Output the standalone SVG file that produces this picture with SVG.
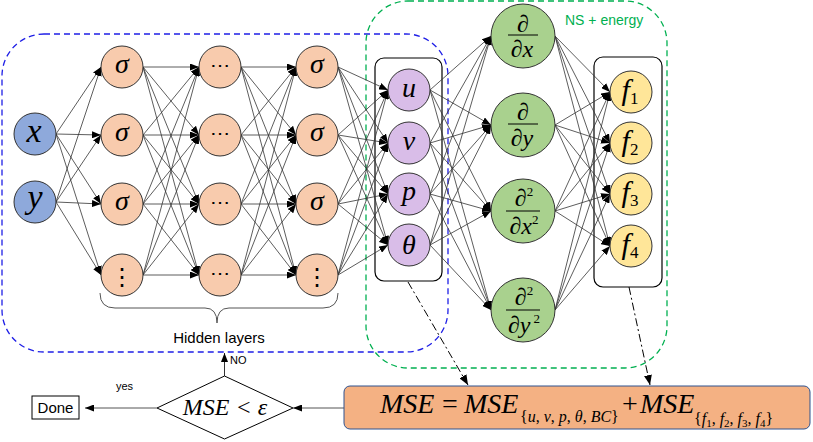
<svg xmlns="http://www.w3.org/2000/svg" width="813" height="442" viewBox="0 0 813 442">
<defs>
<marker id="a" markerUnits="userSpaceOnUse" markerWidth="9" markerHeight="7" refX="9" refY="3.5" orient="auto"><path d="M0,0 L9,3.5 L0,7 z" fill="#000"/></marker>
<marker id="b" markerUnits="userSpaceOnUse" markerWidth="10" markerHeight="8" refX="10" refY="4" orient="auto"><path d="M0,0 L10,4 L0,8 z" fill="#000"/></marker>
</defs>
<style>
.e{stroke:#333;stroke-width:0.8;marker-end:url(#a)}
.n{stroke:#333;stroke-width:1}
.in{fill:#8EA9DB}
.hd{fill:#F8CBAD}
.ou{fill:#D9BDE8}
.gr{fill:#A9D18E}
.fy{fill:#FFE699}
.m{font-family:"Liberation Serif",serif;font-style:italic;fill:#000;text-anchor:middle}
.s{font-family:"Liberation Sans",Arial,sans-serif;fill:#000}
.fr{stroke:#000;stroke-width:1}
</style>
<rect x="2" y="34" width="446" height="318" rx="42" fill="none" stroke="#1F1FE6" stroke-width="1.3" stroke-dasharray="6,4"/>
<rect x="366" y="1" width="301" height="367" rx="42" fill="none" stroke="#00B050" stroke-width="1.3" stroke-dasharray="6,4"/>
<text x="565" y="25" class="s" font-size="14" fill="#00B050" style="fill:#00B050">NS + energy</text>
<rect x="375" y="58" width="67" height="223" rx="9" fill="none" stroke="#000" stroke-width="1.2"/>
<rect x="594" y="57" width="68" height="230" rx="9" fill="none" stroke="#000" stroke-width="1.2"/>
<g id="connectors">
<line class="e" x1="56" y1="134" x2="101" y2="67"/><line class="e" x1="56" y1="134" x2="101" y2="135"/><line class="e" x1="56" y1="134" x2="101" y2="204"/><line class="e" x1="56" y1="134" x2="101" y2="275"/>
<line class="e" x1="56" y1="202" x2="101" y2="67"/><line class="e" x1="56" y1="202" x2="101" y2="135"/><line class="e" x1="56" y1="202" x2="101" y2="204"/><line class="e" x1="56" y1="202" x2="101" y2="275"/>
<line class="e" x1="143" y1="67" x2="199" y2="67"/><line class="e" x1="143" y1="67" x2="199" y2="135"/><line class="e" x1="143" y1="67" x2="199" y2="204"/><line class="e" x1="143" y1="67" x2="199" y2="275"/>
<line class="e" x1="143" y1="135" x2="199" y2="67"/><line class="e" x1="143" y1="135" x2="199" y2="135"/><line class="e" x1="143" y1="135" x2="199" y2="204"/><line class="e" x1="143" y1="135" x2="199" y2="275"/>
<line class="e" x1="143" y1="204" x2="199" y2="67"/><line class="e" x1="143" y1="204" x2="199" y2="135"/><line class="e" x1="143" y1="204" x2="199" y2="204"/><line class="e" x1="143" y1="204" x2="199" y2="275"/>
<line class="e" x1="143" y1="275" x2="199" y2="67"/><line class="e" x1="143" y1="275" x2="199" y2="135"/><line class="e" x1="143" y1="275" x2="199" y2="204"/><line class="e" x1="143" y1="275" x2="199" y2="275"/>
<line class="e" x1="241" y1="67" x2="296" y2="67"/><line class="e" x1="241" y1="67" x2="296" y2="135"/><line class="e" x1="241" y1="67" x2="296" y2="204"/><line class="e" x1="241" y1="67" x2="296" y2="275"/>
<line class="e" x1="241" y1="135" x2="296" y2="67"/><line class="e" x1="241" y1="135" x2="296" y2="135"/><line class="e" x1="241" y1="135" x2="296" y2="204"/><line class="e" x1="241" y1="135" x2="296" y2="275"/>
<line class="e" x1="241" y1="204" x2="296" y2="67"/><line class="e" x1="241" y1="204" x2="296" y2="135"/><line class="e" x1="241" y1="204" x2="296" y2="204"/><line class="e" x1="241" y1="204" x2="296" y2="275"/>
<line class="e" x1="241" y1="275" x2="296" y2="67"/><line class="e" x1="241" y1="275" x2="296" y2="135"/><line class="e" x1="241" y1="275" x2="296" y2="204"/><line class="e" x1="241" y1="275" x2="296" y2="275"/>
<line class="e" x1="338" y1="67" x2="388" y2="90"/><line class="e" x1="338" y1="67" x2="388" y2="143"/><line class="e" x1="338" y1="67" x2="388" y2="194"/><line class="e" x1="338" y1="67" x2="388" y2="245"/>
<line class="e" x1="338" y1="135" x2="388" y2="90"/><line class="e" x1="338" y1="135" x2="388" y2="143"/><line class="e" x1="338" y1="135" x2="388" y2="194"/><line class="e" x1="338" y1="135" x2="388" y2="245"/>
<line class="e" x1="338" y1="204" x2="388" y2="90"/><line class="e" x1="338" y1="204" x2="388" y2="143"/><line class="e" x1="338" y1="204" x2="388" y2="194"/><line class="e" x1="338" y1="204" x2="388" y2="245"/>
<line class="e" x1="338" y1="275" x2="388" y2="90"/><line class="e" x1="338" y1="275" x2="388" y2="143"/><line class="e" x1="338" y1="275" x2="388" y2="194"/><line class="e" x1="338" y1="275" x2="388" y2="245"/>
<line class="e" x1="430" y1="90" x2="491" y2="36"/><line class="e" x1="430" y1="90" x2="491" y2="125"/><line class="e" x1="430" y1="90" x2="491" y2="211"/><line class="e" x1="430" y1="90" x2="491" y2="310"/>
<line class="e" x1="430" y1="143" x2="491" y2="36"/><line class="e" x1="430" y1="143" x2="491" y2="125"/><line class="e" x1="430" y1="143" x2="491" y2="211"/><line class="e" x1="430" y1="143" x2="491" y2="310"/>
<line class="e" x1="430" y1="194" x2="491" y2="36"/><line class="e" x1="430" y1="194" x2="491" y2="125"/><line class="e" x1="430" y1="194" x2="491" y2="211"/><line class="e" x1="430" y1="194" x2="491" y2="310"/>
<line class="e" x1="430" y1="245" x2="491" y2="36"/><line class="e" x1="430" y1="245" x2="491" y2="125"/><line class="e" x1="430" y1="245" x2="491" y2="211"/><line class="e" x1="430" y1="245" x2="491" y2="310"/>
<line class="e" x1="555" y1="36" x2="610" y2="92"/><line class="e" x1="555" y1="36" x2="610" y2="143"/><line class="e" x1="555" y1="36" x2="610" y2="194"/><line class="e" x1="555" y1="36" x2="610" y2="246"/>
<line class="e" x1="555" y1="125" x2="610" y2="92"/><line class="e" x1="555" y1="125" x2="610" y2="143"/><line class="e" x1="555" y1="125" x2="610" y2="194"/><line class="e" x1="555" y1="125" x2="610" y2="246"/>
<line class="e" x1="555" y1="211" x2="610" y2="92"/><line class="e" x1="555" y1="211" x2="610" y2="143"/><line class="e" x1="555" y1="211" x2="610" y2="194"/><line class="e" x1="555" y1="211" x2="610" y2="246"/>
<line class="e" x1="555" y1="310" x2="610" y2="92"/><line class="e" x1="555" y1="310" x2="610" y2="143"/><line class="e" x1="555" y1="310" x2="610" y2="194"/><line class="e" x1="555" y1="310" x2="610" y2="246"/>
<line x1="408" y1="282" x2="468" y2="385" stroke="#000" stroke-width="1" stroke-dasharray="8,3,2,3" marker-end="url(#b)"/>
<line x1="629" y1="287" x2="650" y2="385" stroke="#000" stroke-width="1" stroke-dasharray="8,3,2,3" marker-end="url(#b)"/>
<line x1="344" y1="408" x2="293" y2="408" stroke="#555" stroke-width="1" marker-end="url(#a)"/>
<line x1="157" y1="408" x2="85" y2="408" stroke="#555" stroke-width="1" marker-end="url(#a)"/>
<line x1="224.5" y1="376" x2="224.5" y2="353" stroke="#333" stroke-width="1" marker-end="url(#a)"/>
</g>
<g id="in-x"><circle class="n in" cx="35" cy="134" r="21"/><text class="m" x="34" y="142" font-size="34">x</text></g>
<g id="in-y"><circle class="n in" cx="35" cy="202" r="21"/><text class="m" x="35" y="208" font-size="34">y</text></g>
<g id="h1-1"><circle class="n hd" cx="122" cy="67" r="21"/><text class="m" x="122" y="73" font-size="28">σ</text></g>
<g id="h1-2"><circle class="n hd" cx="122" cy="135" r="21"/><text class="m" x="122" y="141" font-size="28">σ</text></g>
<g id="h1-3"><circle class="n hd" cx="122" cy="204" r="21"/><text class="m" x="122" y="210" font-size="28">σ</text></g>
<g id="h1-4"><circle class="n hd" cx="122" cy="275" r="21"/><text class="m" x="122" y="285" font-size="24" style="font-style:normal;font-family:'DejaVu Serif',serif">⋮</text></g>
<g id="h2-1"><circle class="n hd" cx="220" cy="67" r="21"/><text class="m" x="220" y="72" font-size="20" style="font-style:normal;font-family:'DejaVu Serif',serif">⋯</text></g>
<g id="h2-2"><circle class="n hd" cx="220" cy="135" r="21"/><text class="m" x="220" y="140" font-size="20" style="font-style:normal;font-family:'DejaVu Serif',serif">⋯</text></g>
<g id="h2-3"><circle class="n hd" cx="220" cy="204" r="21"/><text class="m" x="220" y="209" font-size="20" style="font-style:normal;font-family:'DejaVu Serif',serif">⋯</text></g>
<g id="h2-4"><circle class="n hd" cx="220" cy="275" r="21"/><text class="m" x="220" y="280" font-size="20" style="font-style:normal;font-family:'DejaVu Serif',serif">⋯</text></g>
<g id="h3-1"><circle class="n hd" cx="317" cy="67" r="21"/><text class="m" x="317" y="73" font-size="28">σ</text></g>
<g id="h3-2"><circle class="n hd" cx="317" cy="135" r="21"/><text class="m" x="317" y="141" font-size="28">σ</text></g>
<g id="h3-3"><circle class="n hd" cx="317" cy="204" r="21"/><text class="m" x="317" y="210" font-size="28">σ</text></g>
<g id="h3-4"><circle class="n hd" cx="317" cy="275" r="21"/><text class="m" x="317" y="285" font-size="24" style="font-style:normal;font-family:'DejaVu Serif',serif">⋮</text></g>
<g id="out-u"><circle class="n ou" cx="409" cy="90" r="21"/><text class="m" x="409" y="97" font-size="28">u</text></g>
<g id="out-v"><circle class="n ou" cx="409" cy="143" r="21"/><text class="m" x="409" y="150" font-size="28">v</text></g>
<g id="out-p"><circle class="n ou" cx="409" cy="194" r="21"/><text class="m" x="409" y="200" font-size="28">p</text></g>
<g id="out-theta"><circle class="n ou" cx="409" cy="245" r="21"/><text class="m" x="409" y="254" font-size="28">θ</text></g>
<g id="d-dx"><circle class="n gr" cx="523" cy="36" r="32"/><text class="m" x="523" y="32" font-size="24">∂</text><line class="fr" x1="508" y1="35" x2="538" y2="35"/><text class="m" x="522" y="57" font-size="24">∂x</text></g>
<g id="d-dy"><circle class="n gr" cx="523" cy="125" r="32"/><text class="m" x="523" y="120" font-size="24">∂</text><line class="fr" x1="508" y1="124" x2="538" y2="124"/><text class="m" x="522" y="146" font-size="24">∂y</text></g>
<g id="d-dx2"><circle class="n gr" cx="523" cy="211" r="32"/><text class="m" x="524" y="206" font-size="24">∂<tspan font-size="13" dy="-10" style="font-style:normal">2</tspan></text><line class="fr" x1="506" y1="211" x2="540" y2="211"/><text class="m" x="524" y="234" font-size="24">∂x<tspan font-size="13" dy="-10" style="font-style:normal">2</tspan></text></g>
<g id="d-dy2"><circle class="n gr" cx="523" cy="310" r="32"/><text class="m" x="524" y="305" font-size="24">∂<tspan font-size="13" dy="-10" style="font-style:normal">2</tspan></text><line class="fr" x1="506" y1="310" x2="540" y2="310"/><text class="m" x="524" y="333" font-size="24">∂y<tspan font-size="13" dy="-10" dx="3" style="font-style:normal">2</tspan></text></g>
<g id="f1"><circle class="n fy" cx="631" cy="92" r="21"/><text class="m" x="630" y="100" font-size="30">f<tspan font-size="17" dy="4" style="font-style:normal">1</tspan></text></g>
<g id="f2"><circle class="n fy" cx="631" cy="143" r="21"/><text class="m" x="630" y="151" font-size="30">f<tspan font-size="17" dy="4" style="font-style:normal">2</tspan></text></g>
<g id="f3"><circle class="n fy" cx="631" cy="194" r="21"/><text class="m" x="630" y="202" font-size="30">f<tspan font-size="17" dy="4" style="font-style:normal">3</tspan></text></g>
<g id="f4"><circle class="n fy" cx="631" cy="246" r="21"/><text class="m" x="630" y="254" font-size="30">f<tspan font-size="17" dy="4" style="font-style:normal">4</tspan></text></g>
<g id="brace"><path d="M100,293 Q100,308 115,308 L205,308 Q217,308 217,323 Q217,308 229,308 L323,308 Q338,308 338,293" fill="none" stroke="#555" stroke-width="1"/><text class="s" x="219" y="343" font-size="15" text-anchor="middle">Hidden layers</text></g>
<g id="done"><rect x="32" y="396" width="47" height="23" fill="#fff" stroke="#000" stroke-width="1"/><text class="s" x="55.5" y="413" font-size="15" text-anchor="middle">Done</text></g>
<g id="decision"><path d="M224.5,376 L293,408 L224.5,439 L157,408 Z" fill="#fff" stroke="#000" stroke-width="1"/><text class="m" x="225" y="415" font-size="24">MSE &lt; ε</text></g>
<text class="s" x="116" y="390" font-size="11">yes</text>
<text class="s" x="230" y="364" font-size="11">NO</text>
<g id="mse"><rect x="344" y="386" width="466" height="43" rx="6" fill="#F4B183" stroke="#2F528F" stroke-width="1"/>
<text font-family="Liberation Serif,serif" font-size="28" fill="#000"><tspan x="380" y="413" font-style="italic">MSE</tspan><tspan x="442" y="413">=</tspan><tspan x="464" y="413" font-style="italic">MSE</tspan><tspan x="622" y="413">+</tspan><tspan x="640" y="413" font-style="italic">MSE</tspan></text>
<text font-family="Liberation Serif,serif" font-size="16" fill="#000" x="520" y="422">{<tspan font-style="italic">u</tspan>, <tspan font-style="italic">v</tspan>, <tspan font-style="italic">p</tspan>, <tspan font-style="italic">θ</tspan>, <tspan font-style="italic">BC</tspan>}</text>
<text font-family="Liberation Serif,serif" font-size="16" fill="#000" x="694" y="424">{<tspan font-style="italic">f</tspan><tspan font-size="11" dy="3">1</tspan><tspan dy="-3">, </tspan><tspan font-style="italic">f</tspan><tspan font-size="11" dy="3">2</tspan><tspan dy="-3">, </tspan><tspan font-style="italic">f</tspan><tspan font-size="11" dy="3">3</tspan><tspan dy="-3">, </tspan><tspan font-style="italic">f</tspan><tspan font-size="11" dy="3">4</tspan><tspan dy="-3">}</tspan></text>
</g>
</svg>
